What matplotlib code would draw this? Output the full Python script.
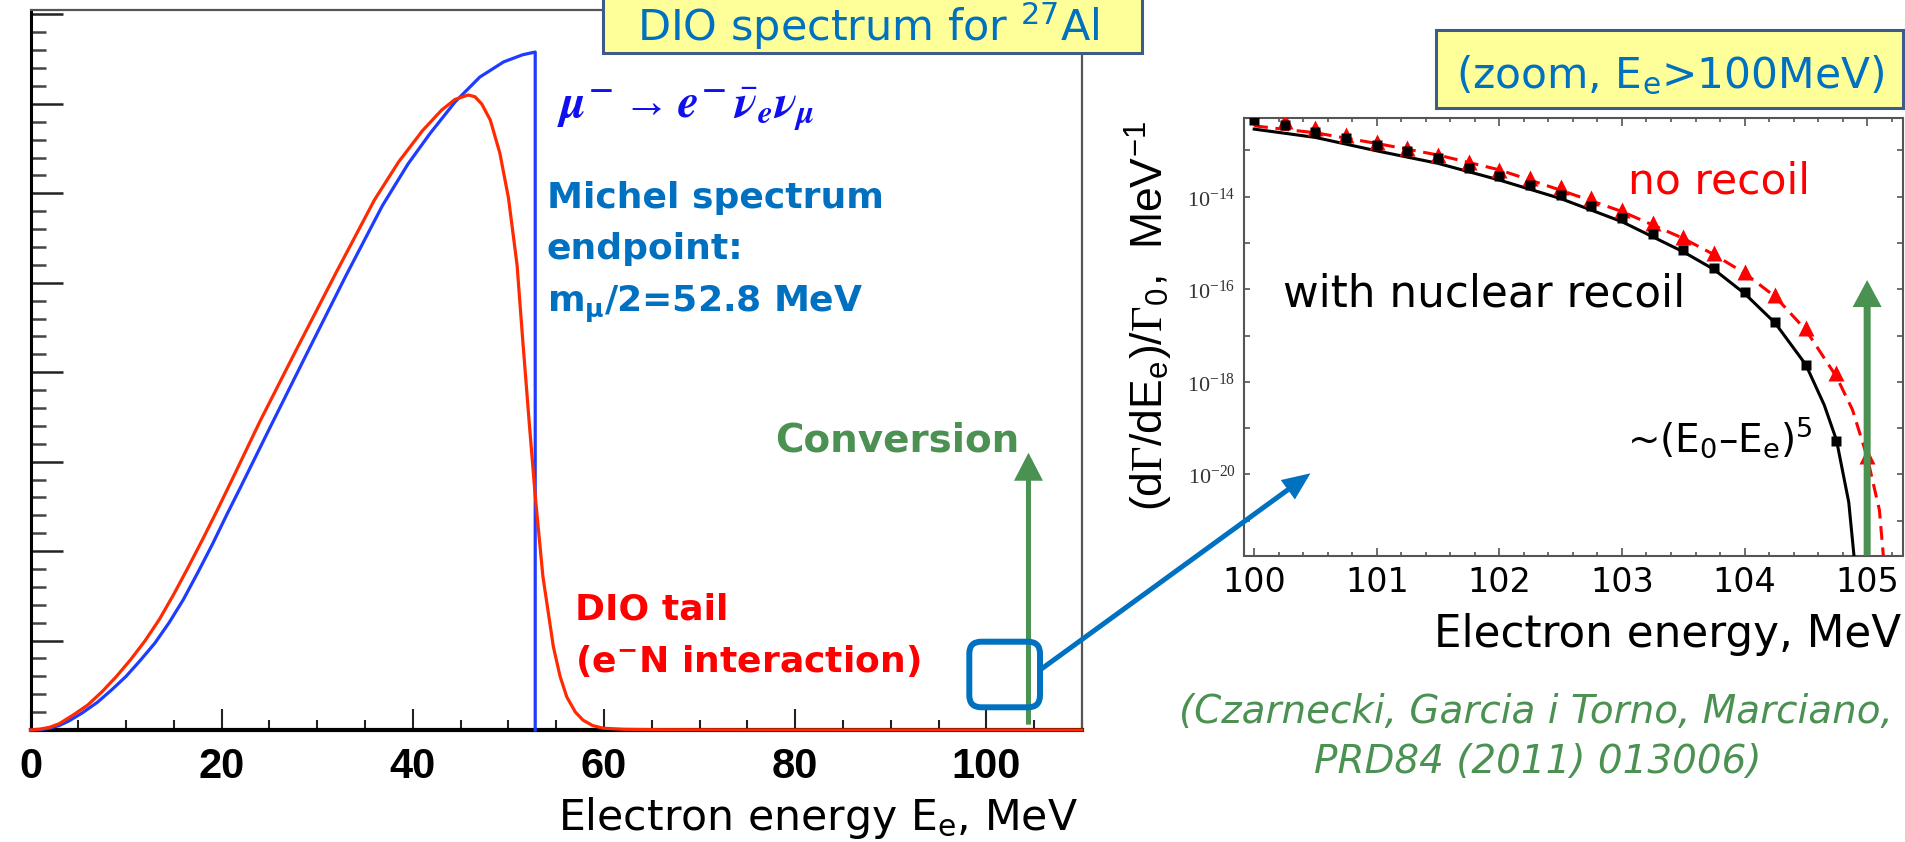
import numpy as np
import matplotlib
matplotlib.use("Agg")
import matplotlib.pyplot as plt
from matplotlib.patches import FancyBboxPatch, FancyArrow, Rectangle
from matplotlib.ticker import MultipleLocator, FixedLocator, FuncFormatter, NullLocator

# ---------------- data ----------------
# Left panel, arbitrary units (1 unit = one major y tick)
michel_E = [0, 1.0, 2.0, 3.0, 4.0, 5.4, 7.0, 8.5, 10.0, 11.5, 13.0, 14.5, 16.0, 17.5, 19.0,
            20.5, 22.0, 25.0, 29.1, 33.0, 36.8, 39.5, 41.8, 44.4, 47.0, 49.5, 51.5, 52.8, 52.8]
michel_v = [0, 0.003, 0.02, 0.05, 0.10, 0.19, 0.31, 0.45, 0.60, 0.78, 0.97, 1.20, 1.46, 1.76, 2.07,
            2.40, 2.72, 3.37, 4.25, 5.08, 5.86, 6.33, 6.67, 7.02, 7.30, 7.47, 7.55, 7.58, 0.0]

dio_E = [0, 1.0, 2.0, 3.0, 4.5, 6.0, 7.5, 9.0, 10.5, 12.0, 13.5, 15.0, 16.5, 18.0, 19.5, 21.0,
         24.0, 27.8, 32.0, 36.0, 38.5, 41.0, 43.0, 44.4, 45.8, 46.5, 47.2, 48.1, 49.1, 50.0,
         50.9, 51.5, 52.2, 52.8, 53.6, 54.7, 55.4, 56.1, 57.0, 57.8, 58.8, 59.9, 62.0, 66.0,
         75.0, 110.0]
dio_v = [0, 0.01, 0.03, 0.07, 0.17, 0.28, 0.43, 0.60, 0.79, 1.00, 1.24, 1.52, 1.82, 2.13, 2.45, 2.78,
         3.45, 4.25, 5.12, 5.93, 6.35, 6.70, 6.93, 7.05, 7.10, 7.08, 7.00, 6.82, 6.45, 5.95,
         5.20, 4.35, 3.40, 2.62, 1.72, 0.93, 0.60, 0.37, 0.20, 0.11, 0.05, 0.02, 0.008, 0.003,
         0.001, 0.0]

left_xticks = [0, 20, 40, 60, 80, 100]
conv_E_left = 104.4
conv_bottom_left = 0.06
conv_top_left = 3.10

# Right panel (zoom above 100 MeV), log10 of dGamma/dE / Gamma0
recoil_E = [100.0, 100.25, 100.5, 100.75, 101.0, 101.25, 101.5, 101.75, 102.0, 102.25,
            102.5, 102.75, 103.0, 103.25, 103.5, 103.75, 104.0, 104.25, 104.5, 104.75]
recoil_log = [-12.34, -12.45, -12.60, -12.74, -12.88, -13.01, -13.17, -13.37, -13.55, -13.75,
              -13.96, -14.20, -14.47, -14.81, -15.15, -15.55, -16.05, -16.71, -17.63, -19.28]

norecoil_E = [100.25, 100.5, 100.75, 101.0, 101.25, 101.5, 101.75, 102.0, 102.25, 102.5,
              102.75, 103.0, 103.25, 103.5, 103.75, 104.0, 104.25, 104.5, 104.75, 105.0]
norecoil_log = [-12.37, -12.52, -12.67, -12.81, -12.95, -13.10, -13.24, -13.42, -13.60, -13.80,
                -14.03, -14.29, -14.56, -14.86, -15.21, -15.62, -16.12, -16.84, -17.81, -19.61]

recoil_line_E = [100.0, 100.5, 101.0, 101.5, 102.0, 102.5, 103.0, 103.5, 103.75, 104.0,
                 104.25, 104.5, 104.65, 104.75, 104.85, 104.92]
recoil_line_log = [-12.54, -12.72, -13.01, -13.28, -13.64, -14.04, -14.54, -15.19, -15.57, -16.09,
                   -16.73, -17.63, -18.50, -19.26, -20.60, -22.50]

norecoil_line_E = [100.0, 100.5, 101.0, 101.5, 102.0, 102.5, 103.0, 103.5, 103.75, 104.0,
                   104.25, 104.5, 104.75, 104.88, 105.0, 105.1, 105.15]
norecoil_line_log = [-12.47, -12.62, -12.85, -13.10, -13.42, -13.86, -14.32, -14.90, -15.25, -15.65,
                     -16.16, -16.88, -17.89, -18.60, -19.62, -20.77, -22.30]

right_xticks = [100, 101, 102, 103, 104, 105]
conv_E_right = 105.0
conv_top_right_log = -15.8

# ---------------- style ----------------
plt.rcParams['font.family'] = ['DejaVu Sans']
plt.rcParams['mathtext.fontset'] = 'custom'
plt.rcParams['mathtext.rm'] = 'Liberation Serif'
plt.rcParams['mathtext.it'] = 'STIXGeneral:italic:bold'
plt.rcParams['mathtext.bf'] = 'STIXGeneral:bold'
plt.rcParams['mathtext.sf'] = 'Liberation Sans'

SLIDE_BLUE = '#0070C0'
GREEN = '#4A9152'
RED = '#FF0000'

W, H = 1905, 842
fig = plt.figure(figsize=(W / 100, H / 100), dpi=100)


def rect(x0, y0, x1, y1):
    return [x0 / W, 1 - y1 / H, (x1 - x0) / W, (y1 - y0) / H]


# ---------------- left panel ----------------
ax1 = fig.add_axes(rect(30.5, 10, 1082, 730))
ax1.plot(michel_E, michel_v, color='#1E3CFF', lw=2.3, clip_on=False, zorder=3)
ax1.plot(dio_E, dio_v, color='#FF2A00', lw=2.3, clip_on=False, zorder=4)
ax1.set_xlim(0, 110)
ax1.set_ylim(0, 8.05)
ax1.xaxis.set_major_locator(FixedLocator(left_xticks))
ax1.xaxis.set_minor_locator(MultipleLocator(5))
ax1.yaxis.set_major_locator(MultipleLocator(1))
ax1.yaxis.set_minor_locator(MultipleLocator(0.2))
ax1.tick_params(axis='y', which='major', direction='in', length=23, width=1.8,
                color='#222222', labelleft=False)
ax1.tick_params(axis='y', which='minor', direction='in', length=11, width=1.8,
                color='#444444')
ax1.tick_params(axis='x', which='major', direction='in', length=15, width=1.5,
                color='#222222', pad=12)
ax1.tick_params(axis='x', which='minor', direction='in', length=7.5, width=1.5,
                color='#222222')
for lab in ax1.get_xticklabels():
    lab.set_fontfamily('Liberation Sans')
    lab.set_fontweight('bold')
    lab.set_fontsize(30)
ax1.spines['left'].set_linewidth(2.2)
ax1.spines['left'].set_color('black')
ax1.spines['bottom'].set_linewidth(3)
ax1.spines['bottom'].set_color('black')
for s in ('top', 'right'):
    ax1.spines[s].set_color('#555555')
    ax1.spines[s].set_linewidth(1.6)

# ---------------- right panel ----------------
ax2 = fig.add_axes(rect(1244, 118, 1902.7, 555.5))
ax2.set_yscale('log')
ax2.plot(recoil_line_E, 10.0 ** np.array(recoil_line_log), color='black', lw=2.2, zorder=3)
ax2.plot(norecoil_line_E, 10.0 ** np.array(norecoil_line_log), color=RED, lw=2.2,
         ls=(0, (4.5, 2.5)), zorder=4)
ax2.plot(norecoil_E, 10.0 ** np.array(norecoil_log), ls='none', marker='^', ms=11,
         color=RED, mec='none', zorder=5)
ax2.plot(recoil_E, 10.0 ** np.array(recoil_log), ls='none', marker='s', ms=7.5,
         color='black', mec='none', zorder=6)
ax2.set_xlim(99.917, 105.29)
ax2.set_ylim(10 ** -21.75, 10 ** -12.30)
ax2.xaxis.set_major_locator(FixedLocator(right_xticks))
ax2.xaxis.set_minor_locator(MultipleLocator(0.2))
ax2.yaxis.set_major_locator(FixedLocator(10.0 ** np.arange(-21, -12)))
ax2.yaxis.set_minor_locator(NullLocator())


def ylab(v, pos):
    e = int(round(np.log10(v)))
    return r'$\mathrm{10^{%d}}$' % e if e % 2 == 0 else ''


ax2.yaxis.set_major_formatter(FuncFormatter(ylab))
ax2.tick_params(axis='both', which='both', direction='in', top=True, right=True,
                color='#555555', width=1.2)
ax2.tick_params(axis='x', which='major', length=6, labelsize=24, pad=7.5)
ax2.tick_params(axis='x', which='minor', length=3)
ax2.tick_params(axis='y', which='major', length=4.5, labelsize=16, pad=6,
                labelcolor='#333333')
for s in ax2.spines.values():
    s.set_color('#555555')
    s.set_linewidth(1.5)

# ---------------- overlay (pixel coordinates, y down) ----------------
ov = fig.add_axes([0, 0, 1, 1], zorder=10)
ov.set_xlim(0, W)
ov.set_ylim(H, 0)
ov.axis('off')
ov.patch.set_alpha(0)


def to_px(ax, x, y):
    X, Y = ax.transData.transform((x, y))
    return X, H - Y


# yellow title boxes
ov.add_patch(Rectangle((603, -20), 539, 73, fc='#FFFF99', ec='#3D5A8A', lw=2.2))
ov.text(637, 41, r'DIO spectrum for $\mathregular{^{27}}$Al', fontsize=31,
        color=SLIDE_BLUE, ha='left', va='baseline')
ov.add_patch(Rectangle((1436, 30), 467, 78, fc='#FFFF99', ec='#3D5A8A', lw=2.2))
ov.text(1670, 88, r'(zoom, E$\mathregular{_e}$>100MeV)', fontsize=30.5,
        color=SLIDE_BLUE, ha='center', va='baseline')

# left panel annotations
ov.text(557, 117, r'$\mu^{\mathbf{-}}\rightarrow e^{\mathbf{-}}\,\bar{\nu}_{e}\nu_{\mu}$',
        fontsize=34, color='#1010EE', ha='left', va='baseline')
ov.text(547, 208, 'Michel spectrum', fontsize=26, fontweight='bold', color=SLIDE_BLUE,
        ha='left', va='baseline')
ov.text(547, 259, 'endpoint:', fontsize=26, fontweight='bold', color=SLIDE_BLUE,
        ha='left', va='baseline')
ov.text(547, 312, r'm$\mathregular{_{\mu}}$/2=52.8 MeV', fontsize=26, fontweight='bold',
        color=SLIDE_BLUE, ha='left', va='baseline')
ov.text(775, 451.7, 'Conversion', fontsize=28, fontweight='bold', color=GREEN,
        ha='left', va='baseline')
ov.text(575, 620, 'DIO tail', fontsize=26, fontweight='bold', color=RED,
        ha='left', va='baseline')
ov.text(575, 672, r'(e$\mathregular{^{-}}$N interaction)', fontsize=26, fontweight='bold',
        color=RED, ha='left', va='baseline')
ov.text(558, 830, r'Electron energy E$\mathregular{_e}$, MeV', fontsize=30.7, color='black',
        ha='left', va='baseline')

# green conversion arrow (left)
gx, gy0 = to_px(ax1, conv_E_left, conv_bottom_left)
_, gy1 = to_px(ax1, conv_E_left, conv_top_left)
ov.add_patch(FancyArrow(gx, gy0, 0, gy1 - gy0, width=5, head_width=29, head_length=28,
                        length_includes_head=True, color=GREEN, lw=0))

# blue callout box + arrow
ov.add_patch(FancyBboxPatch((969.3, 641.7), 70.7, 65.6,
                            boxstyle='round,pad=0,rounding_size=12',
                            fc='none', ec=SLIDE_BLUE, lw=4.3))
ov.add_patch(FancyArrow(1040, 670, 1310.5 - 1040, 473.3 - 670, width=5, head_width=24,
                        head_length=28, length_includes_head=True, color=SLIDE_BLUE, lw=0))

# right panel annotations
ov.text(1628, 193.3, 'no recoil', fontsize=30.5, color=RED, ha='left', va='baseline')
ov.text(1283, 306.7, 'with nuclear recoil', fontsize=31.4, color='black',
        ha='left', va='baseline')
ov.text(1626.7, 452, r'~(E$\mathregular{_0}$–E$\mathregular{_e}$)$\mathregular{^5}$',
        fontsize=28, color='black', ha='left', va='baseline')
ov.text(1433.7, 646.7, 'Electron energy, MeV', fontsize=31.4, color='black',
        ha='left', va='baseline')
ov.text(1148, 316, r'(d$\Gamma$/dE$_{\mathsf{e}}$)/$\Gamma_{\mathsf{0}}$,  MeV$^{\mathsf{-1}}$',
        fontsize=32, fontfamily='Liberation Sans', rotation=90, color='black',
        ha='center', va='center')
ov.text(1536, 723.3, '(Czarnecki, Garcia i Torno, Marciano,', fontsize=28, style='italic',
        color=GREEN, ha='center', va='baseline')
ov.text(1537.5, 773.3, 'PRD84 (2011) 013006)', fontsize=28, style='italic',
        color=GREEN, ha='center', va='baseline')

# green conversion arrow (right)
rx, ry0 = to_px(ax2, conv_E_right, 10 ** -21.75)
_, ry1 = to_px(ax2, conv_E_right, 10 ** conv_top_right_log)
ov.add_patch(FancyArrow(rx, ry0, 0, ry1 - ry0, width=7, head_width=29, head_length=27,
                        length_includes_head=True, color=GREEN, lw=0))

fig.savefig('out.png', dpi=100)
